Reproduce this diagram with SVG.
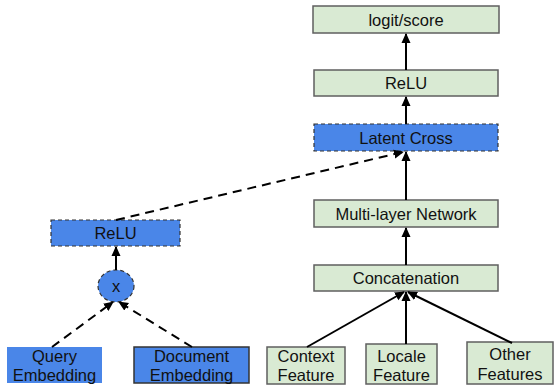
<svg xmlns="http://www.w3.org/2000/svg" width="554" height="387" viewBox="0 0 554 387">
<defs>
<marker id="ah" markerWidth="10" markerHeight="10" refX="9" refY="5" orient="auto" markerUnits="userSpaceOnUse">
<path d="M0,0.5 L10,5 L0,9.5 Z" fill="#000"/>
</marker>
<style>
.g{fill:#d9ead3;stroke:#5f5f5f;stroke-width:1.5}
.bd{fill:#4a86e8;stroke:#333;stroke-width:1.2;stroke-dasharray:4,3}
.bs{fill:#4a86e8;stroke:#333;stroke-width:1.5}
.bn{fill:#4a86e8;stroke:none}
text{font-family:"Liberation Sans",Arial,sans-serif;font-size:16.5px;fill:#111;text-anchor:middle}
.c{stroke:#000;stroke-width:2;fill:none;marker-end:url(#ah)}
.d{stroke-dasharray:9,6}
</style>
</defs>
<g id="logit"><rect class="g" x="313" y="6" width="186" height="27"/><text x="406" y="25.5">logit/score</text></g>
<g id="relu-right"><rect class="g" x="314" y="70" width="184" height="26"/><text x="406" y="89">ReLU</text></g>
<g id="latent-cross"><rect class="bd" x="314" y="124" width="184" height="27"/><text x="406" y="143.5">Latent Cross</text></g>
<g id="multi-layer"><rect class="g" x="314" y="200" width="184" height="27"/><text x="406" y="219.5">Multi-layer Network</text></g>
<g id="concat"><rect class="g" x="314" y="265" width="184" height="26"/><text x="406" y="284">Concatenation</text></g>
<g id="context"><rect class="g" x="267" y="347" width="78" height="37"/><text x="306" y="362">Context</text><text x="306" y="381">Feature</text></g>
<g id="locale"><rect class="g" x="366" y="344" width="71" height="40"/><text x="401.5" y="362">Locale</text><text x="401.5" y="381">Feature</text></g>
<g id="other"><rect class="g" x="467" y="342" width="86" height="42"/><text x="510" y="360">Other</text><text x="510" y="380">Features</text></g>
<g id="relu-left"><rect class="bd" x="51" y="220" width="129" height="26"/><text x="115.5" y="239">ReLU</text></g>
<g id="mult"><ellipse class="bd" cx="116" cy="286" rx="18" ry="16"/><text x="116" y="292">x</text></g>
<g id="query"><rect class="bn" x="7" y="347" width="95" height="36"/><text x="54.5" y="362">Query</text><text x="54.5" y="381">Embedding</text></g>
<g id="document"><rect class="bs" x="134" y="347" width="115" height="36"/><text x="191.5" y="362">Document</text><text x="191.5" y="381">Embedding</text></g>
<g id="connectors">
<line class="c" x1="406" y1="70" x2="406" y2="34"/>
<line class="c" x1="406" y1="124" x2="406" y2="97"/>
<line class="c" x1="406" y1="200" x2="406" y2="152"/>
<line class="c" x1="406" y1="265" x2="406" y2="228"/>
<line class="c" x1="307" y1="347" x2="404" y2="292"/>
<line class="c" x1="406" y1="344" x2="406" y2="292"/>
<line class="c" x1="512" y1="343" x2="408" y2="292"/>
<line class="c d" x1="116" y1="220" x2="403" y2="152"/>
<line class="c" x1="116" y1="270" x2="116" y2="247"/>
<line class="c d" x1="52" y1="347" x2="113" y2="302"/>
<line class="c d" x1="192" y1="347" x2="119" y2="302"/>
</g>
</svg>
